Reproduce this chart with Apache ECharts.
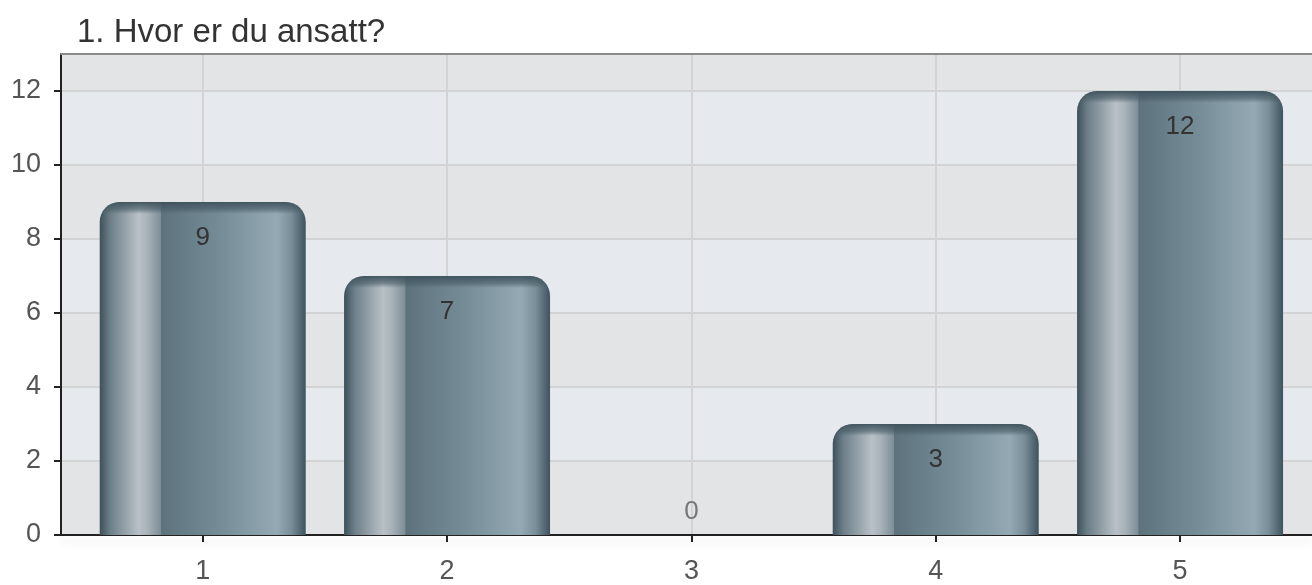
<!DOCTYPE html>
<html>
<head>
<meta charset="utf-8">
<script src="https://cdn.jsdelivr.net/npm/echarts@6/dist/echarts.min.js"></script>
<style>html,body{margin:0;padding:0;background:#fff;}#c{width:1312px;height:585px;}</style>
</head>
<body>
<div id="c"></div>
<script>
const title = '1. Hvor er du ansatt?';
const categories = [1, 2, 3, 4, 5];
const values = [9, 7, 0, 3, 12];
const yTicks = [0, 2, 4, 6, 8, 10, 12];

const FONT = '"Liberation Sans", Arial, sans-serif';
const chart = echarts.init(document.getElementById('c'), null, {renderer: 'canvas'});

const barGrad = {
  type: 'linear', x: 0, y: 0, x2: 1, y2: 0,
  colorStops: [
    {offset: 0, color: '#3d515b'},
    {offset: 0.05, color: '#6c7e88'},
    {offset: 0.19, color: '#b9c1c7'},
    {offset: 0.23, color: '#a9b3ba'},
    {offset: 0.295, color: '#7f8f98'},
    {offset: 0.30, color: '#5d727d'},
    {offset: 0.60, color: '#778e99'},
    {offset: 0.86, color: '#94a9b4'},
    {offset: 0.93, color: '#7a8e99'},
    {offset: 1, color: '#3e535e'}
  ]
};

const mainData = categories.map((c, i) => {
  const item = {value: [c, values[i]]};
  if (values[i] === 0) {
    item.label = {position: 'top', distance: 10, color: '#777'};
  }
  return item;
});

const capData = categories.map((c, i) => {
  const v = values[i];
  const f = v > 0 ? Math.min(1, 12 / (v * 37.2)) : 0;
  return {
    value: [c, v],
    itemStyle: {
      color: {
        type: 'linear', x: 0, y: 0, x2: 0, y2: 1,
        colorStops: [
          {offset: 0, color: 'rgba(62,82,92,0.95)'},
          {offset: f * 0.6, color: 'rgba(70,90,100,0.6)'},
          {offset: f, color: 'rgba(70,90,100,0)'},
          {offset: 1, color: 'rgba(70,90,100,0)'}
        ]
      }
    }
  };
});

const option = {
  animation: false,
  backgroundColor: '#ffffff',
  title: {
    text: title,
    left: 72, top: 11,
    textStyle: {fontFamily: FONT, fontSize: 33, fontWeight: 'normal', color: '#333'}
  },
  grid: {left: 61, right: 0, top: 54, bottom: 48, show: true,
    backgroundColor: '#e3e4e6', borderWidth: 0},
  xAxis: [{
    type: 'value',
    min: 0.42, max: 5.54,
    axisLine: {show: true, onZero: false, lineStyle: {color: '#222', width: 2,
      shadowColor: 'rgba(0,0,0,0.12)', shadowBlur: 8, shadowOffsetY: 6}},
    axisTick: {show: true, length: 7, lineStyle: {color: '#222', width: 2}, customValues: categories},
    axisLabel: {customValues: categories, margin: 23, fontFamily: FONT, fontSize: 27, color: '#555'},
    splitLine: {show: true, lineStyle: {color: '#d3d3d3', width: 2}}
  }, {
    type: 'value', position: 'top',
    min: 0.42, max: 5.54,
    axisLine: {show: true, onZero: false, lineStyle: {color: '#8a8a8a', width: 2}},
    axisTick: {show: false}, axisLabel: {show: false}, splitLine: {show: false}
  }],
  yAxis: {
    type: 'value',
    min: 0, max: 13, interval: 2,
    axisLine: {show: true, onZero: false, lineStyle: {color: '#222', width: 2}},
    axisTick: {show: true, length: 7, lineStyle: {color: '#222', width: 2}, customValues: yTicks},
    axisLabel: {customValues: yTicks, margin: 20, fontFamily: FONT, fontSize: 27, color: '#555'},
    splitLine: {show: true, lineStyle: {color: '#d3d3d3', width: 2}},
    splitArea: {show: true, areaStyle: {color: ['#e3e4e6', '#e6e9ed']}}
  },
  series: [{
    type: 'bar',
    data: mainData,
    barWidth: 206,
    barGap: '-100%',
    itemStyle: {color: barGrad, borderRadius: [20, 20, 0, 0]},
    label: {show: true, position: 'insideTop', distance: 23,
      fontFamily: FONT, fontSize: 26, color: '#333'},
    z: 2
  }, {
    type: 'bar',
    data: capData,
    barWidth: 206,
    barGap: '-100%',
    silent: true,
    itemStyle: {borderRadius: [20, 20, 0, 0]},
    label: {show: false},
    z: 3
  }]
};
chart.setOption(option);
</script>
</body>
</html>
